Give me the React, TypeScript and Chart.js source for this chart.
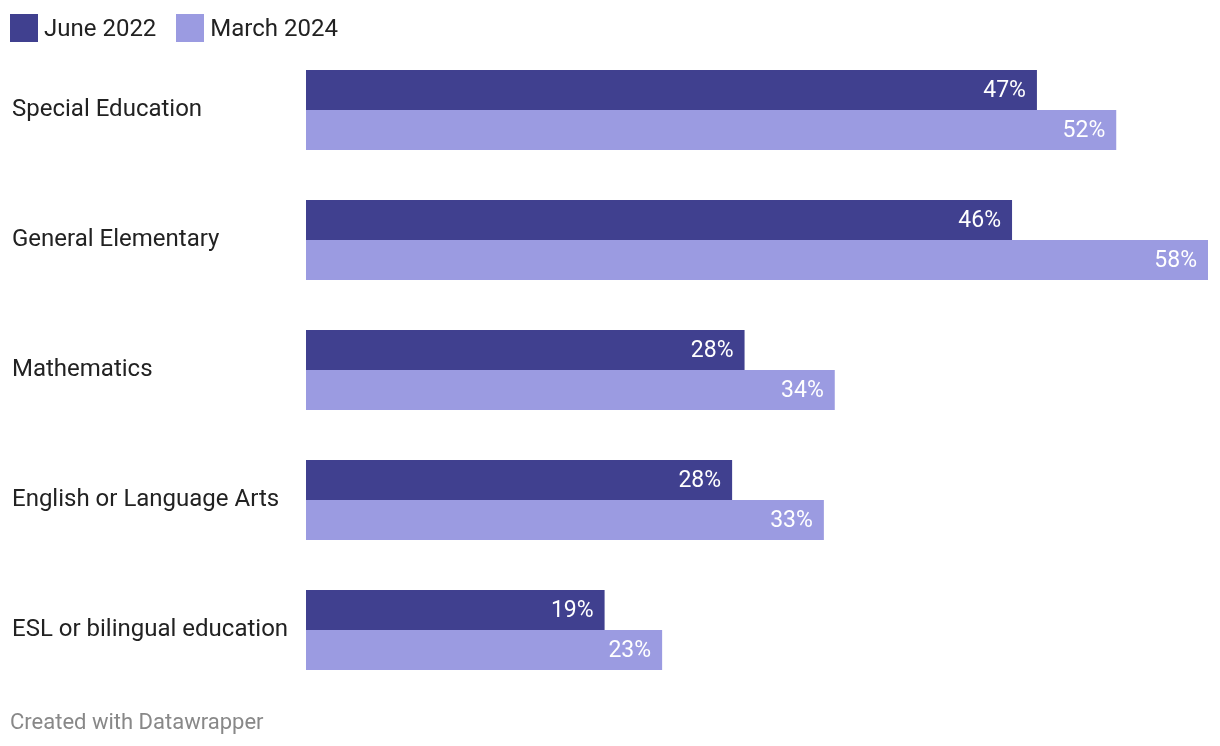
import React, { useEffect, useRef } from "react";
import { Chart, registerables } from "chart.js";

Chart.register(...registerables);

const categories = [
  "Special Education",
  "General Elementary",
  "Mathematics",
  "English or Language Arts",
  "ESL or bilingual education",
];
const seriesNames = ["June 2022", "March 2024"];
const june2022 = [47.0, 45.4, 28.2, 27.4, 19.2];
const march2024 = [52.1, 58.0, 34.0, 33.3, 22.9];
const june2022Labels = ["47%", "46%", "28%", "28%", "19%"];
const march2024Labels = ["52%", "58%", "34%", "33%", "23%"];
const colors = ["#40408f", "#9b9be1"];
const footerText = "Created with Datawrapper";

const FONT = "Roboto, 'Noto Sans', sans-serif";

const valueLabelPlugin = {
  id: "valueLabels",
  afterDatasetsDraw(chart: any) {
    const ctx = chart.ctx;
    const labelSets = [june2022Labels, march2024Labels];
    ctx.save();
    ctx.font = `400 23px ${FONT}`;
    ctx.fillStyle = "#ffffff";
    ctx.textAlign = "right";
    ctx.textBaseline = "middle";
    chart.data.datasets.forEach((_ds: any, di: number) => {
      const meta = chart.getDatasetMeta(di);
      meta.data.forEach((bar: any, i: number) => {
        ctx.fillText(labelSets[di][i], bar.x - 11, bar.y + 1);
      });
    });
    ctx.restore();
  },
};

export default function App() {
  const canvasRef = useRef<HTMLCanvasElement | null>(null);

  useEffect(() => {
    document.body.style.margin = "0";
    const canvas = canvasRef.current;
    if (!canvas) return;
    const chart = new Chart(canvas, {
      type: "bar",
      data: {
        labels: categories,
        datasets: [
          {
            label: seriesNames[0],
            data: june2022,
            backgroundColor: colors[0],
            barPercentage: 1,
            categoryPercentage: 80 / 130,
          },
          {
            label: seriesNames[1],
            data: march2024,
            backgroundColor: colors[1],
            barPercentage: 1,
            categoryPercentage: 80 / 130,
          },
        ],
      },
      options: {
        indexAxis: "y",
        animation: false,
        responsive: false,
        maintainAspectRatio: false,
        devicePixelRatio: 1,
        layout: { padding: { left: 12, right: 12, top: 45, bottom: 51 } },
        plugins: {
          legend: { display: false },
          tooltip: { enabled: false },
        },
        scales: {
          x: {
            display: false,
            min: 0,
            max: 58,
            grid: { display: false },
          },
          y: {
            grid: { display: false },
            border: { display: false },
            afterFit: (scale: any) => {
              scale.width = 294;
            },
            ticks: {
              crossAlign: "far",
              color: "#222222",
              font: { family: FONT, size: 24, weight: "400" },
              padding: 0,
            },
          },
        },
      },
      plugins: [valueLabelPlugin],
    });
    return () => chart.destroy();
  }, []);

  return (
    <div
      style={{
        position: "relative",
        width: 1220,
        height: 746,
        fontFamily: FONT,
        background: "#fff",
      }}
    >
      <canvas
        ref={canvasRef}
        width={1220}
        height={746}
        style={{ position: "absolute", left: 0, top: 0, width: 1220, height: 746 }}
      />
      <div
        style={{
          position: "absolute",
          left: 10,
          top: 14,
          display: "flex",
          alignItems: "center",
          height: 28,
          fontSize: 24,
          color: "#222",
        }}
      >
        {seriesNames.map((name, i) => (
          <div key={name} style={{ display: "flex", alignItems: "center", marginRight: 20 }}>
            <span
              style={{
                display: "inline-block",
                width: 28,
                height: 28,
                background: colors[i],
                marginRight: 6,
              }}
            />
            <span style={{ lineHeight: "28px" }}>{name}</span>
          </div>
        ))}
      </div>
      <div
        style={{
          position: "absolute",
          left: 10,
          top: 708,
          fontSize: 22,
          color: "#888",
          lineHeight: "28px",
        }}
      >
        {footerText}
      </div>
    </div>
  );
}
